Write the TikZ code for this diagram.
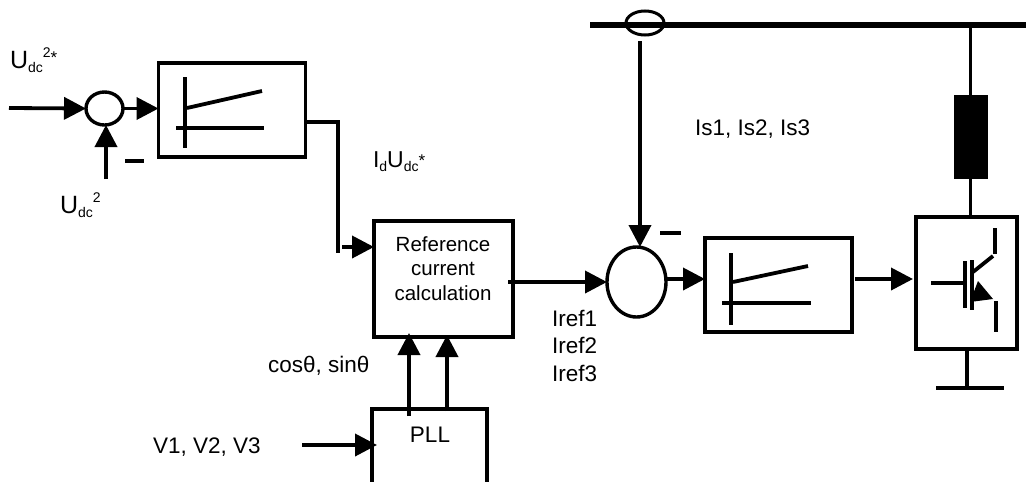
\documentclass[tikz,border=0pt]{standalone}
\usepackage{fontspec}
\setmainfont{Liberation Sans}
\usetikzlibrary{shapes.geometric, arrows.meta}
\newcommand{\lowtxt}[1]{\raisebox{-4.5pt}{\fontsize{14}{14}\selectfont #1}}
\newcommand{\hightxt}[1]{\raisebox{11pt}{\fontsize{14}{14}\selectfont #1}}
\newcommand{\startxt}[1]{\raisebox{#1}{\fontsize{17}{17}\selectfont *}}
\tikzset{
  blockbox/.style={draw, line width=3.4pt, fill=white, outer sep=0pt, inner sep=0pt, align=center},
  sumcirc/.style={draw, ellipse, line width=3.4pt, inner sep=0pt, outer sep=0pt},
  wire/.style={line width=3.8pt},
  sigarrow/.style={line width=3.8pt, -{Triangle[length=22pt,width=22pt]}},
  lbl/.style={inner sep=0pt, outer sep=0pt, anchor=base west, font=\fontsize{22.5}{27.5}\selectfont, align=left}
}
\begin{document}
\begin{tikzpicture}[x=1pt,y=-1pt]
\useasboundingbox (0,0) rectangle (1026,482);
\node[blockbox, minimum width=147pt, minimum height=94pt] (pi1) at (232,110) {};
\node[blockbox, minimum width=139pt, minimum height=116pt] (refcalc) at (443.5,279) {};
\node[lbl, anchor=base, align=center, font=\fontsize{20.5}{24.5}\selectfont] (reftxt) at (443,300) {Reference\\current\\calculation};
\node[blockbox, minimum width=147pt, minimum height=94pt] (pi2) at (778.5,285) {};
\node[blockbox, minimum width=101pt, minimum height=132pt] (igbt) at (966.5,283) {};
\node[sumcirc, minimum width=37pt, minimum height=33pt] (sum1) at (104.5,108.5) {};
\node[sumcirc, minimum width=59pt, minimum height=70pt] (sum2) at (636.5,282) {};
\draw[line width=3pt] (645,23) ellipse (19 and 12);
\draw[line width=5.5pt] (590,25) coordinate (busl) -- (1026,25) coordinate (busr);
\node[draw, fill=black, minimum width=33pt, minimum height=83pt, inner sep=0pt, outer sep=0pt] (choke) at (970.5,136.5) {};
% left part
\coordinate (in1) at (9,108);
\coordinate (fb1) at (106,179);
\draw[sigarrow] (in1) -- (sum1.west);
\draw[sigarrow] (fb1) -- (sum1.south -| fb1);
\draw[sigarrow] (sum1.east) -- (pi1.west |- sum1.east);
\draw[wire] (125,161) -- (144,161);
\draw[wire] (185,77) -- (185,148);
\draw[wire] (176,128) -- (264,128);
\draw[wire] (187,108) -- (262,91);
\coordinate (kneea) at (338,122);
\coordinate (kneeb) at (338,253);
\draw[wire] (pi1.east |- kneea) -- (kneea) -- (kneeb);
\coordinate (in2) at (342,247);
\draw[sigarrow] (in2) -- (refcalc.west |- in2);
% pll
\draw[blockbox] (372,484) |- (487,409) -- (487,484);
\node[lbl, anchor=base] (pll) at (430,442) {PLL};
\coordinate (pll1) at (409,416);
\coordinate (pll2) at (447,411);
\draw[sigarrow] (pll1) -- (409,333);
\draw[sigarrow] (pll2) -- (447,335);
\coordinate (vin) at (302,445);
\draw[sigarrow] (vin) -- (377,445);
% middle
\coordinate (out2) at (508,282);
\draw[sigarrow] (out2) -- (sum2.west |- out2);
\coordinate (is) at (640,41);
\draw[sigarrow] (is) -- (sum2.north -| is);
\draw[wire] (660,233) -- (681,233);
\coordinate (out4) at (666,279);
\draw[sigarrow] (out4) -- (pi2.west |- out4);
\draw[wire] (731,253) -- (731,325);
\draw[wire] (722,303) -- (811,303);
\draw[wire] (733,282) -- (808,266);
\coordinate (out3) at (855,279);
\draw[sigarrow] (out3) -- (913,279);
% igbt
\draw[wire] (970.5,25) -- (choke.north);
\draw[wire] (choke.south) -- (igbt.north -| choke.south);
\draw[wire] (931,283) -- (963,283);
\draw[wire] (965,261) -- (965,308);
\draw[wire] (972,260) -- (972,310);
\draw[wire] (973,272) -- (993,256);
\draw[wire] (995,228) -- (995,254);
\draw[wire] (996,301) -- (996,332);
\fill (978,281) -- (993,299) -- (970,302) -- cycle;
\coordinate (gnd) at (967,388);
\draw[wire] (igbt.south -| gnd) -- (gnd);
\draw[wire] (936,388) -- (1004,388);
% labels
\node[lbl, font=\fontsize{25}{25}\selectfont] (udcref) at (10,68) {U\lowtxt{dc}\hightxt{2}\startxt{5pt}};
\node[lbl, font=\fontsize{25}{25}\selectfont] (udc) at (60,213) {U\lowtxt{dc}\hightxt{2}};
\node[lbl, font=\fontsize{23}{23}\selectfont] (idudc) at (373,167) {I\lowtxt{d}U\lowtxt{dc}\startxt{1pt}};
\node[lbl] (is123) at (695,135) {Is1, Is2, Is3};
\node[lbl] (cossin) at (268,372) {cosθ, sinθ};
\node[lbl] (vabc) at (153,453) {V1, V2, V3};
\node[lbl] (iref) at (552,381) {Iref1\\Iref2\\Iref3};
\end{tikzpicture}
\end{document}
